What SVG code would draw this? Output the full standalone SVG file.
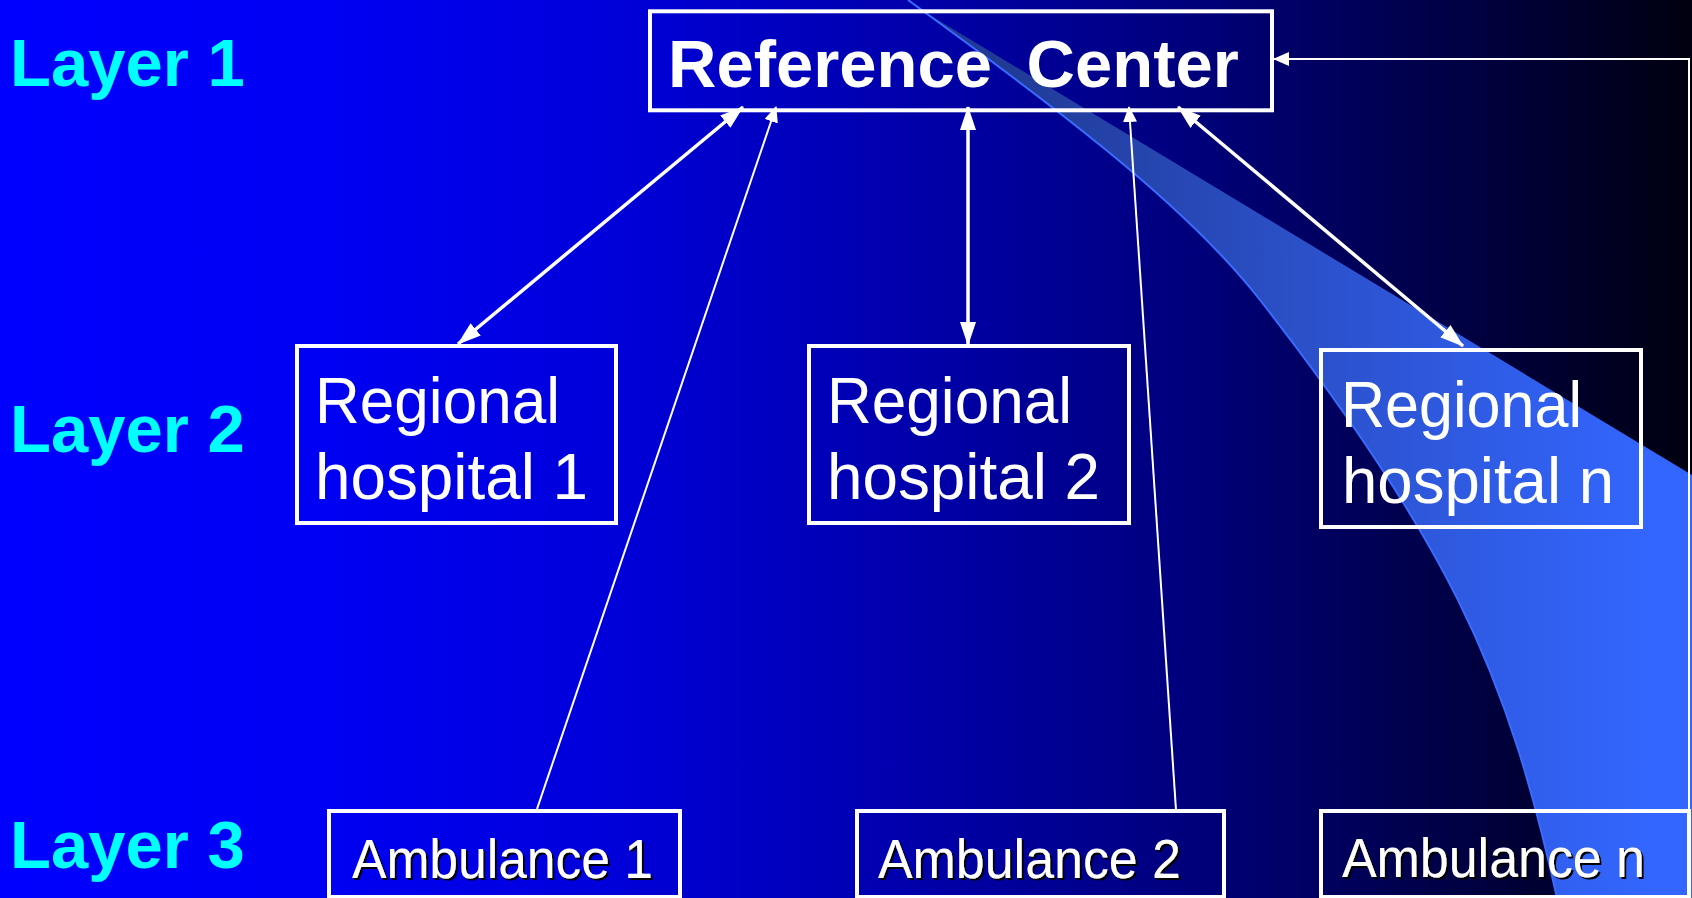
<svg xmlns="http://www.w3.org/2000/svg" width="1692" height="898" viewBox="0 0 1692 898">
<style>
.box{fill:none;stroke:#fff;stroke-width:4}
.layer{font-family:"Liberation Sans",Arial,sans-serif;font-weight:bold;font-size:67px;fill:#00ffff}
.rh{font-family:"Liberation Sans",Arial,sans-serif;font-size:65px;fill:#fff}
.amb{font-family:"Liberation Sans",Arial,sans-serif;font-size:56px;fill:#fff;filter:url(#sh)}
.thick{stroke:#fff;stroke-width:3.5;fill:none;marker-start:url(#ahB);marker-end:url(#ahB)}
.thin{stroke:#fff;stroke-width:2;fill:none;marker-end:url(#ahS)}
</style>
<defs>
<linearGradient id="bg" x1="0" y1="0" x2="1692" y2="0" gradientUnits="userSpaceOnUse">
<stop offset="0" stop-color="#0000ff"/>
<stop offset="0.2" stop-color="#0000f2"/>
<stop offset="0.36" stop-color="#0000da"/>
<stop offset="0.55" stop-color="#0000a8"/>
<stop offset="0.69" stop-color="#000080"/>
<stop offset="0.86" stop-color="#000045"/>
<stop offset="1" stop-color="#000010"/>
</linearGradient>
<linearGradient id="sw" x1="1000" y1="0" x2="1650" y2="0" gradientUnits="userSpaceOnUse">
<stop offset="0" stop-color="#203a95"/>
<stop offset="0.46" stop-color="#2b50c8"/>
<stop offset="1" stop-color="#3366ff"/>
</linearGradient>
<marker id="ahB" viewBox="0 0 24 16" refX="23" refY="8" markerWidth="24" markerHeight="16" markerUnits="userSpaceOnUse" orient="auto-start-reverse">
<path d="M0,0 L24,8 L0,16 z" fill="#fff"/>
</marker>
<marker id="ahS" viewBox="0 0 16 14" refX="15" refY="7" markerWidth="16" markerHeight="14" markerUnits="userSpaceOnUse" orient="auto">
<path d="M0,0 L16,7 L0,14 z" fill="#fff"/>
</marker>
<filter id="sh" x="-5%" y="-20%" width="110%" height="140%">
<feDropShadow dx="2" dy="2" stdDeviation="0" flood-color="#000" flood-opacity="1"/>
</filter>
</defs>

<rect x="0" y="0" width="1692" height="898" fill="url(#bg)"/>

<g id="swoosh">
<path d="M908,0 C1045,100 1182,200 1260,300 C1338,400 1408,500 1458,600 C1508,700 1535,798 1557,898 L1692,898 L1692,475 L928,14 Z" fill="url(#sw)"/>
<path d="M908,0 C1045,100 1182,200 1260,300 C1338,400 1408,500 1458,600 C1508,700 1535,798 1557,898" fill="none" stroke="#3a6bff" stroke-width="2"/>
</g>

<g id="layer-labels">
<text class="layer" x="10" y="86">Layer 1</text>
<text class="layer" x="10" y="452">Layer 2</text>
<text class="layer" x="10" y="868">Layer 3</text>
</g>

<g id="reference-center">
<rect class="box" x="650" y="11.3" width="622" height="99"/>
<text x="668" y="87" font-family="'Liberation Sans',Arial,sans-serif" font-weight="bold" font-size="67" fill="#fff" word-spacing="16">Reference Center</text>
</g>

<g id="regional-hospital-1">
<rect class="box" x="297" y="346" width="319" height="177"/>
<text class="rh" x="315" y="423" textLength="245" lengthAdjust="spacingAndGlyphs">Regional</text>
<text class="rh" x="315" y="499" textLength="273" lengthAdjust="spacingAndGlyphs">hospital 1</text>
</g>

<g id="regional-hospital-2">
<rect class="box" x="809" y="346" width="320" height="177"/>
<text class="rh" x="827" y="423" textLength="245" lengthAdjust="spacingAndGlyphs">Regional</text>
<text class="rh" x="827" y="499" textLength="273" lengthAdjust="spacingAndGlyphs">hospital 2</text>
</g>

<g id="regional-hospital-n">
<rect class="box" x="1321" y="350" width="320" height="177" stroke-width="3.5"/>
<text class="rh" x="1341" y="427" textLength="241" lengthAdjust="spacingAndGlyphs">Regional</text>
<text class="rh" x="1342" y="503" textLength="272" lengthAdjust="spacingAndGlyphs">hospital n</text>
</g>

<g id="ambulance-1">
<rect class="box" x="329" y="811" width="351" height="86" stroke-width="3.5"/>
<text class="amb" x="352" y="878" textLength="301" lengthAdjust="spacingAndGlyphs">Ambulance 1</text>
</g>

<g id="ambulance-2">
<rect class="box" x="857" y="811" width="367" height="86" stroke-width="3.5"/>
<text class="amb" x="878" y="878" textLength="303" lengthAdjust="spacingAndGlyphs">Ambulance 2</text>
</g>

<g id="ambulance-n">
<rect class="box" x="1321" y="811" width="368" height="86" stroke-width="3.5"/>
<text class="amb" x="1342" y="877" textLength="303" lengthAdjust="spacingAndGlyphs">Ambulance n</text>
</g>

<g id="connectors">
<line class="thick" x1="743" y1="107" x2="458" y2="344"/>
<line class="thick" x1="968" y1="107" x2="968" y2="345"/>
<line class="thick" x1="1178" y1="107" x2="1463" y2="346"/>
<line class="thin" x1="537" y1="809" x2="776" y2="107"/>
<line class="thin" x1="1176" y1="810" x2="1129" y2="107"/>
<path class="thin" d="M1689,811 V59 H1274"/>
</g>
</svg>
